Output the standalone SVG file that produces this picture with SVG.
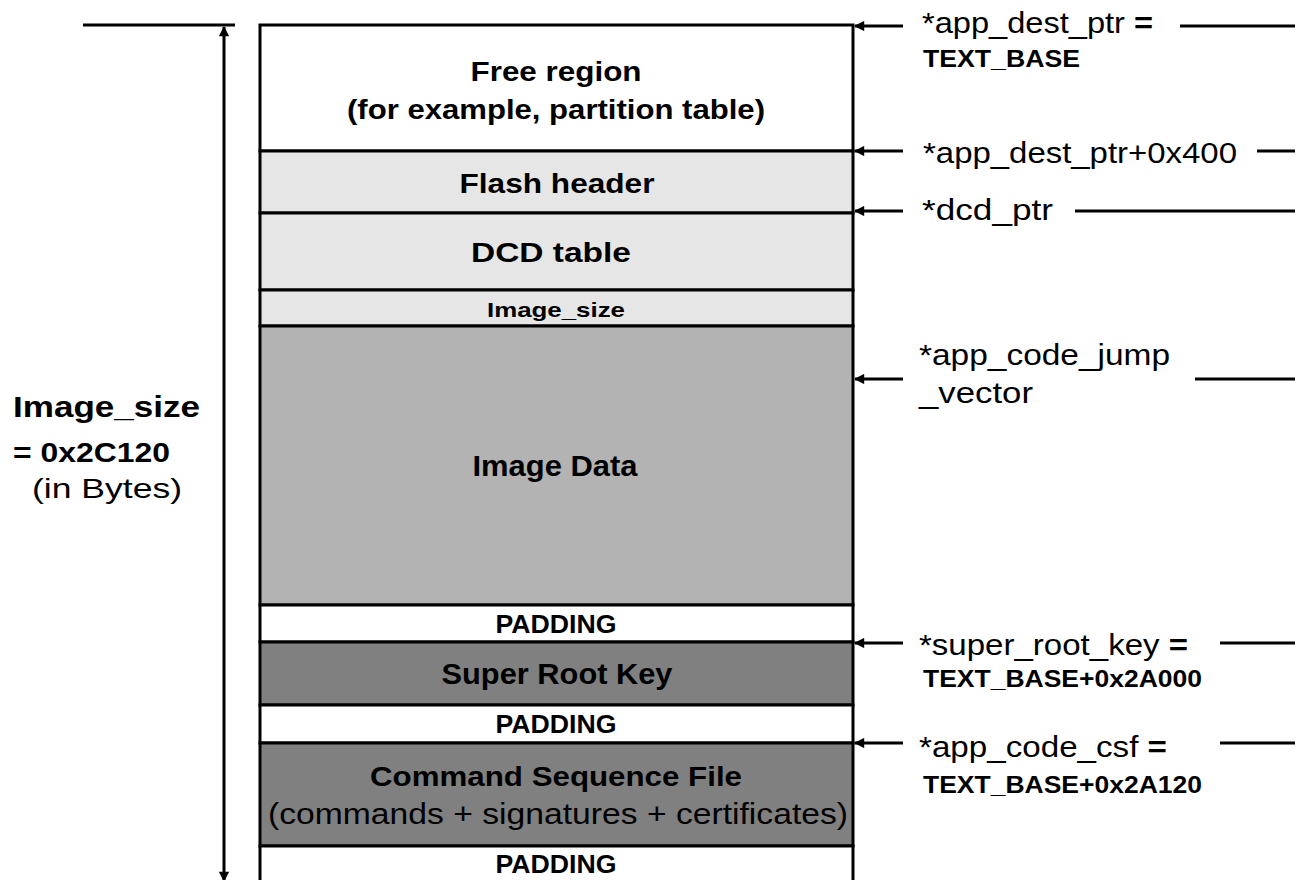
<svg xmlns="http://www.w3.org/2000/svg" width="1298" height="880" viewBox="0 0 1298 880">
  <style>
    .box { stroke: #000; stroke-width: 3; }
    .b { font-family: "Liberation Sans", Arial, sans-serif; font-weight: bold; fill: #000; }
    .r { font-family: "Liberation Sans", Arial, sans-serif; font-weight: normal; fill: #000; }
    .c { text-anchor: middle; }
    .ln { stroke: #000; stroke-width: 3; fill: none; }
    .eq { font-weight: bold; }
  </style>
  <defs>
    <marker id="ah" viewBox="0 0 10 10" refX="9" refY="5" markerWidth="4" markerHeight="3.4" orient="auto" markerUnits="strokeWidth">
      <path d="M0,0 L10,5 L0,10 Z" fill="#000"/>
    </marker>
  </defs>
  <rect width="1298" height="880" fill="#fff"/>

  <g id="free-region">
    <rect class="box" x="260" y="25" width="593" height="126" fill="#fff"/>
    <text class="b c" x="556" y="81" font-size="28" textLength="171" lengthAdjust="spacingAndGlyphs">Free region</text>
    <text class="b c" x="556" y="119" font-size="28" textLength="418" lengthAdjust="spacingAndGlyphs">(for example, partition table)</text>
  </g>
  <g id="flash-header">
    <rect class="box" x="260" y="151" width="593" height="62" fill="#e6e6e6"/>
    <text class="b c" x="557" y="193" font-size="28" textLength="195" lengthAdjust="spacingAndGlyphs">Flash header</text>
  </g>
  <g id="dcd-table">
    <rect class="box" x="260" y="213" width="593" height="77" fill="#e6e6e6"/>
    <text class="b c" x="551" y="262" font-size="28" textLength="160" lengthAdjust="spacingAndGlyphs">DCD table</text>
  </g>
  <g id="image-size">
    <rect class="box" x="260" y="290" width="593" height="36" fill="#e6e6e6"/>
    <text class="b c" x="556" y="317" font-size="21" textLength="138" lengthAdjust="spacingAndGlyphs">Image_size</text>
  </g>
  <g id="image-data">
    <rect class="box" x="260" y="326" width="593" height="279" fill="#b3b3b3"/>
    <text class="b c" x="555" y="476" font-size="29" textLength="165" lengthAdjust="spacingAndGlyphs">Image Data</text>
  </g>
  <g id="padding-1">
    <rect class="box" x="260" y="605" width="593" height="37" fill="#fff"/>
    <text class="b c" x="556" y="633" font-size="25" textLength="121" lengthAdjust="spacingAndGlyphs">PADDING</text>
  </g>
  <g id="super-root-key">
    <rect class="box" x="260" y="642" width="593" height="63" fill="#808080"/>
    <text class="b c" x="557" y="684" font-size="29" textLength="231" lengthAdjust="spacingAndGlyphs">Super Root Key</text>
  </g>
  <g id="padding-2">
    <rect class="box" x="260" y="705" width="593" height="38" fill="#fff"/>
    <text class="b c" x="556" y="733" font-size="25" textLength="121" lengthAdjust="spacingAndGlyphs">PADDING</text>
  </g>
  <g id="csf">
    <rect class="box" x="260" y="743" width="593" height="103" fill="#808080"/>
    <text class="b c" x="556" y="786" font-size="28" textLength="372" lengthAdjust="spacingAndGlyphs">Command Sequence File</text>
    <text class="r c" x="558" y="824" font-size="30" textLength="580" lengthAdjust="spacingAndGlyphs">(commands + signatures + certificates)</text>
  </g>
  <g id="padding-3">
    <rect class="box" x="260" y="846" width="593" height="50" fill="#fff"/>
    <text class="b c" x="556" y="873" font-size="25" textLength="121" lengthAdjust="spacingAndGlyphs">PADDING</text>
  </g>

  <g id="size-label">
    <text class="b" x="13" y="417" font-size="30" textLength="187" lengthAdjust="spacingAndGlyphs">Image_size</text>
    <text class="b" x="13" y="462" font-size="28" textLength="157" lengthAdjust="spacingAndGlyphs">= 0x2C120</text>
    <text class="r" x="32" y="498" font-size="28" textLength="150" lengthAdjust="spacingAndGlyphs">(in Bytes)</text>
  </g>

  <g id="pointer-labels">
    <text class="r" x="922" y="33" font-size="29" textLength="231" lengthAdjust="spacingAndGlyphs">*app_dest_ptr <tspan class="eq">=</tspan></text>
    <text class="b" x="923" y="67" font-size="23" textLength="157" lengthAdjust="spacingAndGlyphs">TEXT_BASE</text>
    <text class="r" x="923" y="163" font-size="29" textLength="314" lengthAdjust="spacingAndGlyphs">*app_dest_ptr+0x400</text>
    <text class="r" x="922" y="220" font-size="29" textLength="131" lengthAdjust="spacingAndGlyphs">*dcd_ptr</text>
    <text class="r" x="919" y="365" font-size="29" textLength="251" lengthAdjust="spacingAndGlyphs">*app_code_jump</text>
    <text class="r" x="919" y="403" font-size="29" textLength="114" lengthAdjust="spacingAndGlyphs">_vector</text>
    <text class="r" x="919" y="655" font-size="29" textLength="269" lengthAdjust="spacingAndGlyphs">*super_root_key <tspan class="eq">=</tspan></text>
    <text class="b" x="923" y="687" font-size="23" textLength="279" lengthAdjust="spacingAndGlyphs">TEXT_BASE+0x2A000</text>
    <text class="r" x="919" y="757" font-size="29" textLength="248" lengthAdjust="spacingAndGlyphs">*app_code_csf <tspan class="eq">=</tspan></text>
    <text class="b" x="923" y="793" font-size="23" textLength="279" lengthAdjust="spacingAndGlyphs">TEXT_BASE+0x2A120</text>
  </g>

  <g id="connectors">
    <line class="ln" x1="83" y1="25" x2="235" y2="25"/>
    <line class="ln" x1="224" y1="450" x2="224" y2="27" marker-end="url(#ah)"/>
    <line class="ln" x1="224" y1="450" x2="224" y2="881" marker-end="url(#ah)"/>

    <line class="ln" x1="903" y1="26" x2="855" y2="26" marker-end="url(#ah)"/>
    <line class="ln" x1="1180" y1="26" x2="1295" y2="26"/>
    <line class="ln" x1="903" y1="151" x2="855" y2="151" marker-end="url(#ah)"/>
    <line class="ln" x1="1257" y1="151" x2="1295" y2="151"/>
    <line class="ln" x1="903" y1="211" x2="855" y2="211" marker-end="url(#ah)"/>
    <line class="ln" x1="1075" y1="211" x2="1295" y2="211"/>
    <line class="ln" x1="903" y1="379" x2="855" y2="379" marker-end="url(#ah)"/>
    <line class="ln" x1="1195" y1="379" x2="1295" y2="379"/>
    <line class="ln" x1="903" y1="643" x2="855" y2="643" marker-end="url(#ah)"/>
    <line class="ln" x1="1220" y1="643" x2="1295" y2="643"/>
    <line class="ln" x1="903" y1="743" x2="855" y2="743" marker-end="url(#ah)"/>
    <line class="ln" x1="1220" y1="743" x2="1295" y2="743"/>
  </g>
</svg>
